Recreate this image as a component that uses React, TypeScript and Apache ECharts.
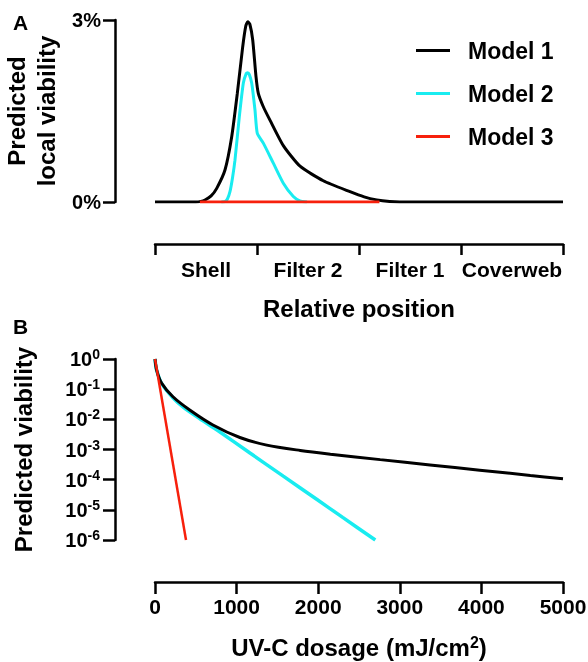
import React, { useEffect, useRef } from "react";
import * as echarts from "echarts";

const positionCategories = ["Shell", "Filter 2", "Filter 1", "Coverweb"];
const viabilityTicksA = [0, 3];

// Panel A: relative position (0..4 across the four layers) vs predicted local viability (%)
const localModel1: [number, number][] = [
  [0, 0], [0.4, 0], [0.45, 0.01], [0.49, 0.033], [0.55, 0.1], [0.605, 0.225], [0.686, 0.527],
  [0.752, 1.077], [0.807, 1.79], [0.86, 2.56], [0.89, 2.9], [0.909, 2.97], [0.93, 2.93],
  [0.958, 2.67], [0.99, 2.07], [1.013, 1.79], [1.062, 1.57], [1.127, 1.35], [1.258, 0.93],
  [1.422, 0.59], [1.65, 0.35], [1.912, 0.17], [2.05, 0.085], [2.174, 0.035], [2.3, 0.008],
  [2.4, 0], [4, 0],
];
const localModel2: [number, number][] = [
  [0.65, 0], [0.686, 0.005], [0.71, 0.05], [0.735, 0.17], [0.76, 0.4], [0.784, 0.69],
  [0.827, 1.41], [0.866, 1.96], [0.895, 2.12], [0.909, 2.13], [0.925, 2.1], [0.948, 1.96],
  [0.98, 1.52], [1.003, 1.13], [1.062, 0.97], [1.16, 0.64], [1.258, 0.31], [1.356, 0.09],
  [1.42, 0.02], [1.49, 0],
];
const localModel3: [number, number][] = [[0.44, 0], [2.2, 0]];

// Panel B: UV-C dosage (mJ/cm2) vs predicted viability
const doseModel1: [number, number][] = [
  [0, 1], [20, 0.43], [80, 0.16], [220, 0.056], [430, 0.02], [710, 0.0065], [1040, 0.0025],
  [1370, 0.0014], [1780, 0.00093], [2150, 0.0007], [2760, 0.000462], [3370, 0.000309],
  [3980, 0.000207], [4600, 0.000138], [5000, 0.000107],
];
const doseModel2: [number, number][] = [
  [0, 1], [20, 0.43], [80, 0.155], [220, 0.052], [350, 0.025], [550, 0.0105], [756, 0.0045],
  [1164, 0.000766], [1572, 0.000131], [1981, 0.0000224], [2300, 0.0000056], [2700, 0.000001],
];
const doseModel3: [number, number][] = [[0, 1], [380, 0.000001]];

const seriesNames = ["Model 1", "Model 2", "Model 3"];
const colors = ["#000000", "#19ecf0", "#f7200c"];

const FONT = "'Liberation Sans', Arial, Helvetica, sans-serif";

export default function App() {
  const ref = useRef<HTMLDivElement>(null);
  useEffect(() => {
    if (!ref.current) return;
    const chart = echarts.init(ref.current, undefined, { renderer: "svg" });
    const axisLine = { show: true, onZero: false, lineStyle: { color: "#000", width: 2.5 } };
    const axisTick = { show: true, inside: false, length: 12, lineStyle: { color: "#000", width: 2.5 } };
    const tickLabel = { color: "#000", fontFamily: FONT, fontWeight: "bold" as const, fontSize: 20 };
    const nameStyle = { color: "#000", fontFamily: FONT, fontWeight: "bold" as const, fontSize: 24 };
    const lineCommon = { type: "line" as const, showSymbol: false };

    chart.setOption({
      animation: false,
      textStyle: { fontFamily: FONT },
      grid: [
        { left: 155, top: 20, width: 408, height: 182, containLabel: false, outerBoundsMode: "none" },
        { left: 155, top: 359, width: 408, height: 181, containLabel: false, outerBoundsMode: "none" },
      ],
      legend: {
        data: seriesNames,
        orient: "vertical",
        left: 411,
        top: 34,
        itemWidth: 34,
        itemHeight: 3,
        itemGap: 20,
        icon: "rect",
        textStyle: { ...tickLabel, fontSize: 23, lineHeight: 23, padding: [0, 0, 0, 13] },
      },
      xAxis: [
        { type: "value", gridIndex: 0, position: "bottom", min: 0, max: 4, show: false },
        {
          type: "category",
          gridIndex: 0,
          position: "bottom",
          data: positionCategories,
          boundaryGap: true,
          offset: 42,
          axisLine,
          axisTick: { ...axisTick, length: 11, alignWithLabel: false, interval: 0 },
          axisLabel: { ...tickLabel, fontSize: 21, margin: 15, interval: 0 },
          name: "Relative position",
          nameLocation: "middle",
          nameGap: 52,
          nameTextStyle: nameStyle,
          splitLine: { show: false },
        },
        {
          type: "value",
          gridIndex: 1,
          position: "bottom",
          min: 0,
          max: 5000,
          interval: 1000,
          offset: 42,
          axisLine,
          axisTick,
          axisLabel: { ...tickLabel, fontSize: 21, margin: 14, formatter: (v: number) => String(v) },
          splitLine: { show: false },
          name: "{t|UV-C dosage (mJ/cm}{s|2}{t|)}",
          nameLocation: "middle",
          nameGap: 52,
          nameTextStyle: {
            ...nameStyle,
            rich: {
              t: { ...nameStyle },
              s: { ...nameStyle, fontSize: 16, padding: [0, 0, 10, 0] },
            },
          },
        },
      ],
      yAxis: [
        {
          type: "value",
          gridIndex: 0,
          position: "left",
          min: viabilityTicksA[0],
          max: viabilityTicksA[1],
          interval: 3,
          offset: 40,
          axisLine,
          axisTick,
          splitLine: { show: false },
          axisLabel: { ...tickLabel, margin: 14, formatter: (v: number) => `${v}%` },
          name: "Predicted\nlocal viability",
          nameLocation: "middle",
          nameRotate: 90,
          nameGap: 48,
          nameTextStyle: { ...nameStyle, lineHeight: 30 },
        },
        {
          type: "log",
          logBase: 10,
          gridIndex: 1,
          position: "left",
          min: 1e-6,
          max: 1,
          offset: 40,
          axisLine,
          axisTick,
          minorTick: { show: false },
          splitLine: { show: false },
          axisLabel: {
            ...tickLabel,
            margin: 15,
            formatter: (v: number) => `{b|10}{s|${Math.round(Math.log10(v))}}`,
            rich: {
              b: { ...tickLabel, fontSize: 20 },
              s: { ...tickLabel, fontSize: 14, padding: [0, 0, 10, 0] },
            },
          },
          name: "Predicted viability",
          nameLocation: "middle",
          nameRotate: 90,
          nameGap: 80,
          nameTextStyle: nameStyle,
        },
      ],
      series: [
        { ...lineCommon, name: "Model 1", xAxisIndex: 0, yAxisIndex: 0, data: localModel1, smooth: 0.2, lineStyle: { color: colors[0], width: 3 }, itemStyle: { color: colors[0] }, z: 2 },
        { ...lineCommon, name: "Model 2", xAxisIndex: 0, yAxisIndex: 0, data: localModel2, smooth: 0.2, lineStyle: { color: colors[1], width: 3 }, itemStyle: { color: colors[1] }, z: 3 },
        { ...lineCommon, name: "Model 3", xAxisIndex: 0, yAxisIndex: 0, data: localModel3, lineStyle: { color: colors[2], width: 3 }, itemStyle: { color: colors[2] }, z: 4 },
        { ...lineCommon, name: "Model 2", xAxisIndex: 2, yAxisIndex: 1, data: doseModel2, smooth: 0.3, lineStyle: { color: colors[1], width: 3.5 }, itemStyle: { color: colors[1] }, z: 2 },
        { ...lineCommon, name: "Model 1", xAxisIndex: 2, yAxisIndex: 1, data: doseModel1, smooth: 0.3, lineStyle: { color: colors[0], width: 3 }, itemStyle: { color: colors[0] }, z: 3 },
        { ...lineCommon, name: "Model 3", xAxisIndex: 2, yAxisIndex: 1, data: doseModel3, lineStyle: { color: colors[2], width: 2.5 }, itemStyle: { color: colors[2] }, z: 4 },
      ],
      graphic: [
        { type: "text", left: 13, top: 12, style: { text: "A", fill: "#000", font: `bold 21px ${FONT}` } },
        { type: "text", left: 13, top: 316, style: { text: "B", fill: "#000", font: `bold 21px ${FONT}` } },
      ],
    });
    return () => chart.dispose();
  }, []);
  return <div ref={ref} style={{ position: "fixed", left: 0, top: 0, width: 588, height: 662 }} />;
}
